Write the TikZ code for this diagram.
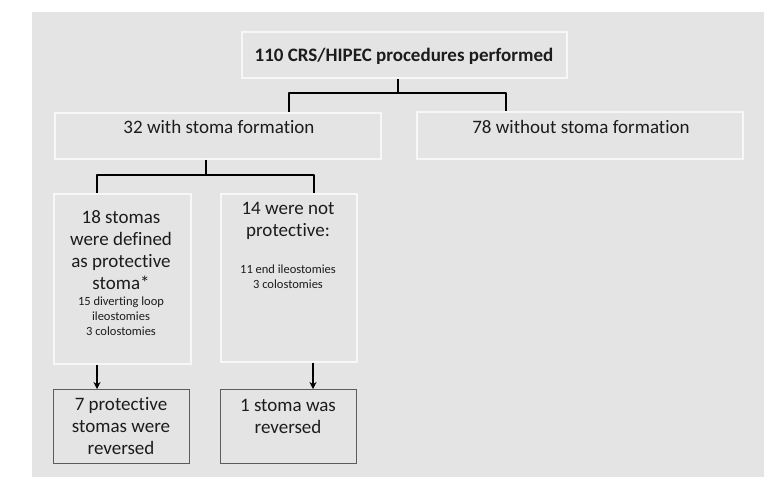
\documentclass[tikz,border=0pt]{standalone}
\usepackage{fontspec}
\setmainfont{Carlito}[Ligatures={NoCommon}]
\usetikzlibrary{arrows.meta}
\definecolor{bggray}{HTML}{E4E4E4}
\definecolor{boxline}{HTML}{F7F7F7}
\definecolor{darkline}{HTML}{5C5C5C}
\definecolor{txt}{HTML}{1C1C1C}
\tikzset{
  lightbox/.style={draw=boxline, line width=1.5pt, fill=bggray, inner sep=0pt, anchor=north west},
  darkbox/.style={draw=darkline, line width=1.3pt, fill=bggray, inner sep=0pt, anchor=north west},
  bigtxt/.style={font=\fontsize{19}{21.7}\selectfont, text=txt, align=center, anchor=base, inner sep=0pt},
  smalltxt/.style={font=\fontsize{12.5}{15}\selectfont, text=txt, align=center, anchor=base, inner sep=0pt},
  conn/.style={line width=2pt, draw=black, line join=round},
  arr/.style={line width=1.8pt, draw=black, -{Stealth[length=7pt,width=7pt]}}
}
\begin{document}
\begin{tikzpicture}[x=1pt,y=-1pt]
\useasboundingbox (0,0) rectangle (777,483);
\fill[white] (0,0) rectangle (777,483);
\fill[bggray] (32,12) rectangle (764,477);
% boxes
\node[lightbox, minimum width=325pt, minimum height=46pt] (top) at (241,31) {};
\node[lightbox, minimum width=326pt, minimum height=46pt] (with) at (54,112) {};
\node[lightbox, minimum width=326pt, minimum height=47pt] (without) at (416,111) {};
\node[lightbox, minimum width=137pt, minimum height=170pt] (prot) at (53,193) {};
\node[lightbox, minimum width=136pt, minimum height=168pt] (notprot) at (220,193) {};
\node[darkbox, minimum width=136pt, minimum height=74pt] (rev1) at (53,389) {};
\node[darkbox, minimum width=136pt, minimum height=74pt] (rev2) at (220,389) {};
% texts (anchor base = baseline of the last line)
\node[bigtxt, font=\fontsize{19}{21.7}\selectfont\bfseries] (ttop) at (404,61) {110 CRS/HIPEC procedures performed};
\node[bigtxt] (twith) at (219,133) {32 with stoma formation};
\node[bigtxt] (twithout) at (581,133) {78 without stoma formation};
\node[bigtxt] (tprot) at (121,289) {18 stomas\\were defined\\as protective\\stoma*};
\node[smalltxt] (tprotsub) at (121,335) {15 diverting loop\\ileostomies\\3 colostomies};
\node[bigtxt] (tnot) at (288,236) {14 were not\\protective:};
\node[smalltxt] (tnotsub) at (288,288.5) {11 end ileostomies\\3 colostomies};
\node[bigtxt] (trev1) at (121,454) {7 protective\\stomas were\\reversed};
\node[bigtxt] (trev2) at (288,433) {1 stoma was\\reversed};
% connectors
\coordinate (j1) at (398,93);
\coordinate (j2) at (206,175);
\draw[conn] (top.south -| j1) -- (j1);
\draw[conn] (with.north -| 289,0) -- (289,93) -- (506,93) -- (without.north -| 506,0);
\draw[conn] (with.south -| j2) -- (j2);
\draw[conn] (prot.north -| 97,0) -- (97,175) -- (314,175) -- (notprot.north -| 314,0);
\draw[arr] (prot.south -| 97,0) -- (rev1.north -| 97,0);
\draw[arr] (notprot.south -| 313,0) -- (rev2.north -| 313,0);
\end{tikzpicture}
\end{document}
